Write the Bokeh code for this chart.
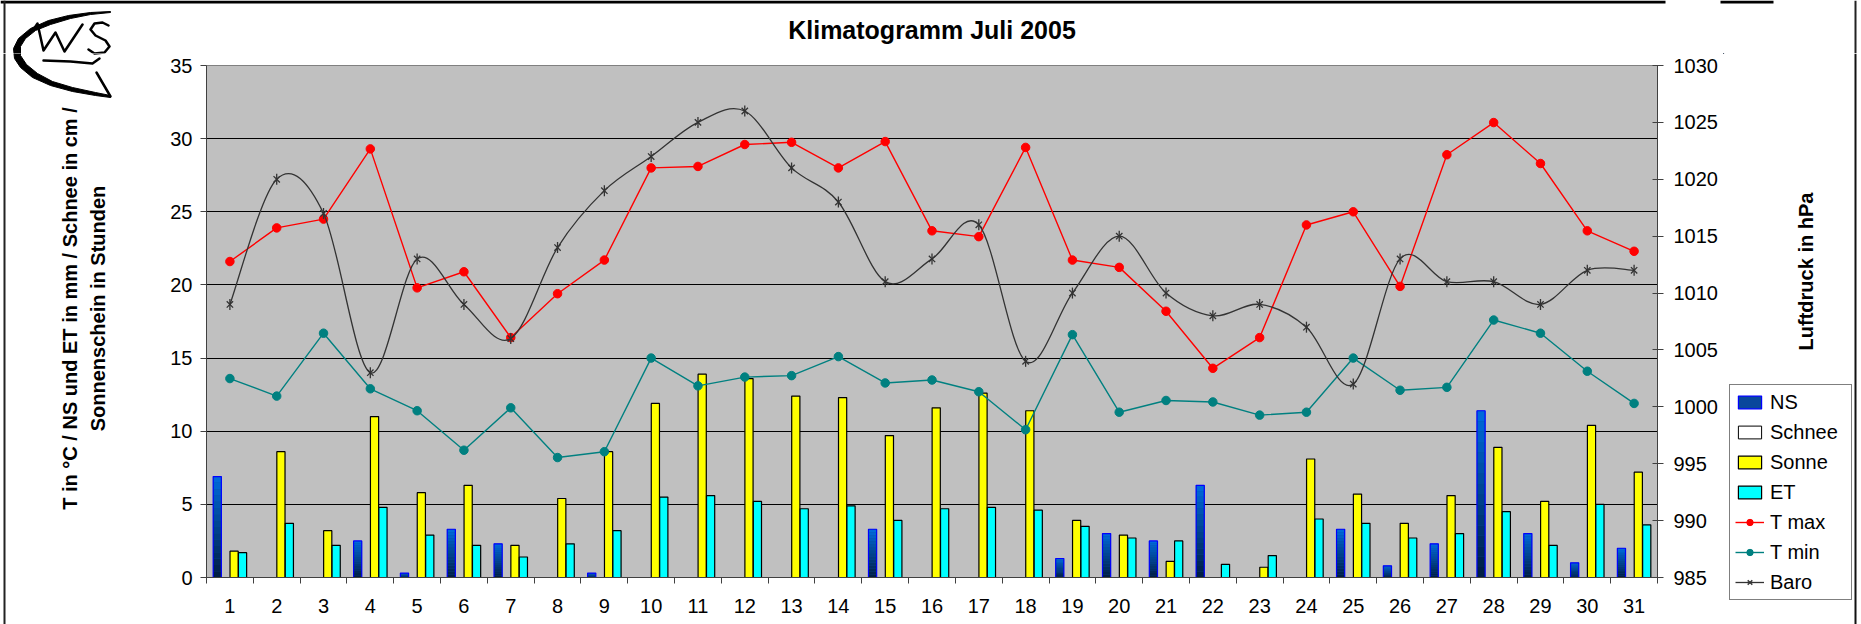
import math
from bokeh.plotting import figure
from bokeh.layouts import row, column
from bokeh.models import (Range1d, LinearAxis, FixedTicker, Legend, LegendItem, Label)
from bokeh.embed import file_html
from bokeh.resources import INLINE

# ---------------- data ----------------
days = [1, 2, 3, 4, 5, 6, 7, 8, 9, 10, 11, 12, 13, 14, 15, 16,
        17, 18, 19, 20, 21, 22, 23, 24, 25, 26, 27, 28, 29, 30, 31]
ns = [6.9, 0, 0, 2.5, 0.3, 3.3, 2.3, 0, 0.3, 0, 0, 0, 0, 0, 3.3, 0,
      0, 0, 1.3, 3.0, 2.5, 6.3, 0, 0, 3.3, 0.8, 2.3, 11.4, 3.0, 1.0, 2.0]
schnee = [0, 0, 0, 0, 0, 0, 0, 0, 0, 0, 0, 0, 0, 0, 0, 0,
          0, 0, 0, 0, 0, 0, 0, 0, 0, 0, 0, 0, 0, 0, 0]
sonne = [1.8, 8.6, 3.2, 11.0, 5.8, 6.3, 2.2, 5.4, 8.6, 11.9, 13.9, 13.6, 12.4, 12.3, 9.7, 11.6,
         12.6, 11.4, 3.9, 2.9, 1.1, 0, 0.7, 8.1, 5.7, 3.7, 5.6, 8.9, 5.2, 10.4, 7.2]
et = [1.7, 3.7, 2.2, 4.8, 2.9, 2.2, 1.4, 2.3, 3.2, 5.5, 5.6, 5.2, 4.7, 4.9, 3.9, 4.7,
      4.8, 4.6, 3.5, 2.7, 2.5, 0.9, 1.5, 4.0, 3.7, 2.7, 3.0, 4.5, 2.2, 5.0, 3.6]
tmax = [21.6, 23.9, 24.5, 29.3, 19.8, 20.9, 16.4, 19.4, 21.7, 28.0, 28.1, 29.6, 29.75, 28.0, 29.8, 23.7,
        23.3, 29.4, 21.7, 21.2, 18.2, 14.3, 16.4, 24.1, 25.0, 19.9, 28.9, 31.1, 28.3, 23.7, 22.3]
tmin = [13.6, 12.4, 16.7, 12.9, 11.4, 8.7, 11.6, 8.2, 8.6, 15.0, 13.1, 13.7, 13.8, 15.1, 13.3, 13.5,
        12.7, 10.1, 16.6, 11.3, 12.1, 12.0, 11.1, 11.3, 15.0, 12.8, 13.0, 17.6, 16.7, 14.1, 11.9]
baro = [1009, 1020, 1017, 1003, 1013, 1009, 1006, 1014, 1019, 1022, 1025, 1026, 1021, 1018, 1011, 1013,
        1016, 1004, 1010, 1015, 1010, 1008, 1009, 1007, 1002, 1013, 1011, 1011, 1009, 1012, 1012]
left_ticks = [0, 5, 10, 15, 20, 25, 30, 35]
grid_ticks = [5, 10, 15, 20, 25, 30]
right_ticks = [985, 990, 995, 1000, 1005, 1010, 1015, 1020, 1025, 1030]
series_names = ["NS", "Schnee", "Sonne", "ET", "T max", "T min", "Baro"]
title_text = "Klimatogramm Juli 2005"
left_title = ["T in °C / NS und ET in mm / Schnee in cm /", "Sonnenschein in Stunden"]
right_title = "Luftdruck in hPa"

# ---------------- page geometry (pixels of the page) ----------------
PW, PH = 1861, 624
TH = 53             # strip above the plots (title)
LW = 160            # left column (logo + y title)
RX = 1723           # start of right column (y2 title + legend)
MW = RX - LW
FONT = "Liberation Sans"
RED, TEAL, GREY = "#FF0000", "#008080", "#333333"
BLUE_EDGE = "#0000FF"
NS_MID = "#08479C"


def deco_fig(x0, x1, y0, y1):
    """White drawing area whose data coordinates are page pixels."""
    f = figure(width=x1 - x0, height=y1 - y0, x_range=Range1d(x0, x1), y_range=Range1d(y1, y0),
               output_backend="svg", toolbar_location=None, min_border=0,
               x_axis_location=None, y_axis_location=None, title=None)
    f.grid.visible = False
    f.outline_line_color = None
    f.background_fill_color = "white"
    f.border_fill_color = "white"
    return f


# logo shapes (page pixels)
logo_outer = [(110, 11), (90, 12), (68, 15), (48, 20), (30, 28), (18, 38), (13, 48), (14, 58),
              (20, 67), (32, 77), (50, 85), (72, 91), (95, 95), (110, 97)]
logo_inner = [(110, 95), (95, 92), (72, 87), (52, 81), (37, 73), (26, 64), (20, 55), (20, 46),
              (25, 38), (35, 30), (50, 24), (70, 18), (90, 14), (110, 12)]
logo_strokes = [
    [(33, 29), (37, 23), (43, 50), (55, 32), (64, 51), (82, 24)],
    [(108, 25), (102, 22), (94, 23), (90, 29), (95, 35), (105, 40), (109, 46), (104, 52), (94, 53), (88, 49)],
    [(43, 60), (70, 61), (92, 63), (99, 58)],
    [(96, 72), (110, 96)],
]


def draw_logo(f):
    pts = logo_outer + logo_inner
    f.patch([a for a, b in pts], [b for a, b in pts], fill_color="black", line_color="black", line_width=1)
    f.multi_line([[a for a, b in s] for s in logo_strokes], [[b for a, b in s] for s in logo_strokes],
                 line_color="black", line_width=2.5, line_cap="round", line_join="round")


# ---------------- main plot ----------------
p = figure(width=MW, height=PH - TH, x_range=Range1d(0.5, 31.5), y_range=Range1d(0, 35),
           output_backend="svg", toolbar_location=None, title=None,
           min_border_left=46, min_border_right=66, min_border_top=12, min_border_bottom=47)
p.extra_y_ranges = {"baro": Range1d(985, 1030)}
p.background_fill_color = "#C0C0C0"
p.border_fill_color = "white"
p.outline_line_color = "#808080"

p.xgrid.visible = False
p.ygrid.ticker = FixedTicker(ticks=grid_ticks)
p.ygrid.grid_line_color = "black"
p.ygrid.grid_line_width = 1

xa = p.xaxis[0]
xa.ticker = FixedTicker(ticks=days, minor_ticks=[d - 0.5 for d in days] + [days[-1] + 0.5])
xa.major_tick_line_color = None
xa.major_tick_out = 0
xa.minor_tick_line_color = "#404040"
xa.minor_tick_out = 6
xa.minor_tick_in = 0
xa.axis_line_color = "#404040"
xa.major_label_text_font = FONT
xa.major_label_text_font_size = "20px"
xa.major_label_text_color = "black"
xa.major_label_standoff = 15

ya = p.yaxis[0]
ya.ticker = FixedTicker(ticks=left_ticks)
ya.minor_tick_line_color = None
ya.major_tick_out = 6
ya.major_tick_in = 0
ya.major_tick_line_color = "#404040"
ya.axis_line_color = "#404040"
ya.major_label_text_font = FONT
ya.major_label_text_font_size = "20px"
ya.major_label_text_color = "black"
ya.major_label_standoff = 8

ra = LinearAxis(y_range_name="baro", ticker=FixedTicker(ticks=right_ticks))
ra.minor_tick_line_color = None
ra.major_tick_out = 6
ra.major_tick_in = 5
ra.major_tick_line_color = "#404040"
ra.axis_line_color = "#404040"
ra.major_label_text_font = FONT
ra.major_label_text_font_size = "20px"
ra.major_label_text_color = "black"
ra.major_label_standoff = 10
p.add_layout(ra, "right")

# bars
BW = 0.175
OFF = [-0.27, -0.09, 0.09, 0.27]

K = 16
ns_x, ns_top = [], []
sx_, sb_, st_, sc_ = [], [], [], []
for d, v in zip(days, ns):
    if v <= 0:
        continue
    ns_x.append(d + OFF[0])
    ns_top.append(v)
    for k in range(K):
        f = (k + 0.5) / K
        g = int(28 + f * (108 - 28))
        b = int(64 + f * (222 - 64))
        sx_.append(d + OFF[0])
        sb_.append(v * k / K)
        st_.append(v * (k + 1) / K)
        sc_.append("#%02x%02x%02x" % (0, g, b))
p.vbar(x=ns_x, top=ns_top, width=BW, fill_color=NS_MID, line_color=None)
p.vbar(x=sx_, bottom=sb_, top=st_, width=BW, fill_color=sc_, line_color=None)
p.vbar(x=ns_x, top=ns_top, width=BW, fill_color=None, line_color=BLUE_EDGE, line_width=1.2)

sch_x = [d + OFF[1] for d, v in zip(days, schnee) if v > 0]
sch_t = [v for v in schnee if v > 0]
p.vbar(x=sch_x, top=sch_t, width=BW, fill_color="white", line_color="black", line_width=1)

so_x = [d + OFF[2] for d, v in zip(days, sonne) if v > 0]
so_t = [v for v in sonne if v > 0]
p.vbar(x=so_x, top=so_t, width=BW, fill_color="#FFFF00", line_color="black", line_width=1.2)

et_x = [d + OFF[3] for d in days]
p.vbar(x=et_x, top=et, width=BW, fill_color="#00FFFF", line_color="black", line_width=1.2)

# lines
p.line(days, tmax, line_color=RED, line_width=1.4)
p.scatter(days, tmax, size=8.5, fill_color=RED, line_color=RED)
p.line(days, tmin, line_color=TEAL, line_width=1.4)
p.scatter(days, tmin, size=8.5, fill_color=TEAL, line_color=TEAL)

# smoothed barometer curve (Catmull-Rom -> cubic Bezier, like a spreadsheet "smoothed line")
n = len(days)
bx0, by0, bx1, by1, bcx0, bcy0, bcx1, bcy1 = [], [], [], [], [], [], [], []
for i in range(n - 1):
    i0, i2, i3 = max(i - 1, 0), i + 1, min(i + 2, n - 1)
    bx0.append(days[i]); by0.append(baro[i])
    bx1.append(days[i2]); by1.append(baro[i2])
    bcx0.append(days[i] + (days[i2] - days[i0]) / 6)
    bcy0.append(baro[i] + (baro[i2] - baro[i0]) / 6)
    bcx1.append(days[i2] - (days[i3] - days[i]) / 6)
    bcy1.append(baro[i2] - (baro[i3] - baro[i]) / 6)
p.bezier(x0=bx0, y0=by0, x1=bx1, y1=by1, cx0=bcx0, cy0=bcy0, cx1=bcx1, cy1=bcy1,
         line_color=GREY, line_width=1.3, y_range_name="baro")
p.scatter(days, baro, marker="x", size=9, line_color=GREY, line_width=1.3, y_range_name="baro")
p.scatter(days, baro, marker="dash", angle=math.pi / 2, size=11, line_color=GREY, line_width=1.3,
          y_range_name="baro")

# ---------------- top strip: border, logo, title ----------------
top = deco_fig(0, PW, 0, TH)
top.quad(left=[0, 1720], right=[1665, 1773], top=[0, 0], bottom=[3, 3], fill_color="black", line_color=None)
top.segment(x0=[4, 1855], y0=[0, 0], x1=[4, 1855], y1=[TH, TH], line_color="#222222", line_width=2)
draw_logo(top)
top.add_layout(Label(x=(206 + 1657) / 2, y=29, text=title_text,
                     text_align="center", text_baseline="middle", text_color="black",
                     text_font=FONT, text_font_size="25px", text_font_style="bold"))

# ---------------- left column: logo (lower part) + axis title ----------------
lf = deco_fig(0, LW, TH, PH)
lf.segment(x0=[4], y0=[TH], x1=[4], y1=[PH], line_color="#222222", line_width=2)
draw_logo(lf)
for xt, txt in zip([69, 97], left_title):
    lf.add_layout(Label(x=xt, y=308, text=txt, angle=math.pi / 2, text_align="center",
                        text_baseline="middle", text_color="black", text_font=FONT,
                        text_font_size="20px", text_font_style="bold"))

# ---------------- right column: axis title + legend ----------------
rf = deco_fig(RX, PW, TH, PH)
rf.segment(x0=[1855], y0=[TH], x1=[1855], y1=[PH], line_color="#111111", line_width=2)
rf.add_layout(Label(x=1805, y=271, text=right_title, angle=math.pi / 2,
                    text_align="center", text_baseline="middle", text_color="black",
                    text_font=FONT, text_font_size="20px", text_font_style="bold"))

# legend swatches: one invisible sample each (outside the visible range), styled like the series
HX, HY = [-10000], [-10000]
g_ns = rf.vbar(x=HX, top=HY, width=1, fill_color=NS_MID, line_color=BLUE_EDGE, line_width=1.2)
g_sch = rf.vbar(x=HX, top=HY, width=1, fill_color="white", line_color="black", line_width=1)
g_so = rf.vbar(x=HX, top=HY, width=1, fill_color="#FFFF00", line_color="black", line_width=1.2)
g_et = rf.vbar(x=HX, top=HY, width=1, fill_color="#00FFFF", line_color="black", line_width=1.2)
g_l1 = rf.line(HX, HY, line_color=RED, line_width=1.4)
g_s1 = rf.scatter(HX, HY, size=8.5, fill_color=RED, line_color=RED)
g_l2 = rf.line(HX, HY, line_color=TEAL, line_width=1.4)
g_s2 = rf.scatter(HX, HY, size=8.5, fill_color=TEAL, line_color=TEAL)
g_l3 = rf.line(HX, HY, line_color=GREY, line_width=1.3)
g_s3 = rf.scatter(HX, HY, marker="x", size=9, line_color=GREY, line_width=1.3)
g_s4 = rf.scatter(HX, HY, marker="dash", angle=math.pi / 2, size=11, line_color=GREY, line_width=1.3)

legend = Legend(items=[
    LegendItem(label=series_names[0], renderers=[g_ns]),
    LegendItem(label=series_names[1], renderers=[g_sch]),
    LegendItem(label=series_names[2], renderers=[g_so]),
    LegendItem(label=series_names[3], renderers=[g_et]),
    LegendItem(label=series_names[4], renderers=[g_l1, g_s1]),
    LegendItem(label=series_names[5], renderers=[g_l2, g_s2]),
    LegendItem(label=series_names[6], renderers=[g_l3, g_s3, g_s4]),
], location=(1729 - RX, PH - 600))
legend.label_text_font = FONT
legend.label_text_font_size = "20px"
legend.label_text_color = "black"
legend.glyph_width = 29
legend.glyph_height = 16
legend.label_standoff = 6
legend.label_height = 24
legend.label_width = 76
legend.spacing = 6
legend.padding = 5
legend.margin = 0
legend.border_line_color = "black"
legend.border_line_width = 1
legend.background_fill_color = "white"
legend.background_fill_alpha = 1
rf.add_layout(legend, "center")

layout = column(top, row(lf, column(p, spacing=0), rf, spacing=0), spacing=0)
open("out.html", "w").write(file_html(layout, INLINE))
